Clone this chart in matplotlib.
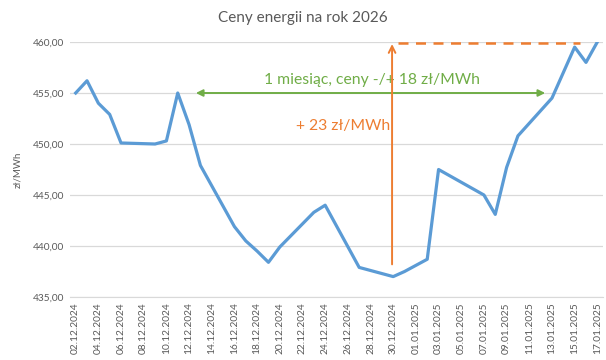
import matplotlib
matplotlib.use("Agg")
import matplotlib.pyplot as plt
import matplotlib.dates as mdates
import pandas as pd

# notowania (dni robocze)
dates = ["02.12.2024", "03.12.2024", "04.12.2024", "05.12.2024", "06.12.2024",
         "09.12.2024", "10.12.2024", "11.12.2024", "12.12.2024", "13.12.2024",
         "16.12.2024", "17.12.2024", "18.12.2024", "19.12.2024", "20.12.2024",
         "23.12.2024", "24.12.2024", "27.12.2024", "30.12.2024", "31.12.2024",
         "02.01.2025", "03.01.2025", "07.01.2025", "08.01.2025", "09.01.2025",
         "10.01.2025", "13.01.2025", "14.01.2025", "15.01.2025", "16.01.2025",
         "17.01.2025"]
prices = [455.0, 456.2, 454.0, 452.9, 450.1,
          450.0, 450.3, 455.0, 451.9, 447.9,
          441.9, 440.5, 439.5, 438.4, 439.9,
          443.3, 444.0, 437.9, 437.0, 437.5,
          438.7, 447.5, 445.0, 443.1, 447.7,
          450.8, 454.5, 457.0, 459.5, 458.0,
          460.0]
y_ticks = [435, 440, 445, 450, 455, 460]

x = pd.to_datetime(dates, format="%d.%m.%Y")
tick_dates = pd.date_range(x[0], x[-1], freq="2D")

plt.rcParams["font.family"] = ["Lato", "DejaVu Sans"]
gray = "#595959"
blue = "#5B9BD5"
green = "#70AD47"
orange = "#ED7D31"

fig = plt.figure(figsize=(6.06, 3.6), dpi=100)
ax = fig.add_axes([70 / 606, 1 - 297 / 360, 533 / 606, 255 / 360])

ax.plot(x, prices, color=blue, linewidth=2.3, solid_joinstyle="round")

half = pd.Timedelta(hours=12)
ax.set_xlim(x[0] - half, x[-1] + half)
ax.set_ylim(435, 460)
ax.set_yticks(y_ticks)
ax.set_yticklabels([f"{v:.2f}".replace(".", ",") for v in y_ticks])
ax.set_xticks(tick_dates)
ax.set_xticklabels([d.strftime("%d.%m.%Y") for d in tick_dates], rotation=90)
ax.tick_params(axis="both", length=0, labelsize=7.3, labelcolor=gray, pad=4)
ax.grid(True, axis="y", color="#D9D9D9", linewidth=0.9)
ax.set_axisbelow(True)
for side in ["top", "right", "left"]:
    ax.spines[side].set_visible(False)
ax.spines["bottom"].set_color("#D9D9D9")

ax.set_ylabel("zł/MWh", fontsize=7, color=gray, labelpad=8)
fig.text(0.5, 1 - 18 / 360, "Ceny energii na rok 2026", ha="center", va="center",
         fontsize=11, color=gray)

# adnotacje
d = lambda s: mdates.date2num(pd.to_datetime(s, format="%d.%m.%Y"))
ax.annotate("", xy=(d("12.12.2024") + 0.6, 455), xytext=(d("13.01.2025") - 0.6, 455),
            arrowprops=dict(arrowstyle="<|-|>", color=green, lw=1.4,
                            mutation_scale=10, shrinkA=0, shrinkB=0))
ax.text(d("29.12.2024") - 0.9, 455.6, "1 miesiąc, ceny -/+ 18 zł/MWh", ha="center",
        va="bottom", fontsize=11.3, color=green)

ax.annotate("", xy=(d("30.12.2024") - 0.1, 459.8), xytext=(d("30.12.2024") - 0.1, 438.2),
            arrowprops=dict(arrowstyle="->", color=orange, lw=1.4,
                            mutation_scale=12, shrinkA=0, shrinkB=0))
ax.text(d("25.12.2024") + 0.6, 451.8, "+ 23 zł/MWh", ha="center", va="center",
        fontsize=11.3, color=orange)
ax.plot([d("30.12.2024") + 0.4, d("15.01.2025") + 0.5], [459.9, 459.9], color=orange,
        linewidth=1.8, linestyle=(0, (4, 3)))

fig.savefig("out.png", dpi=100)
